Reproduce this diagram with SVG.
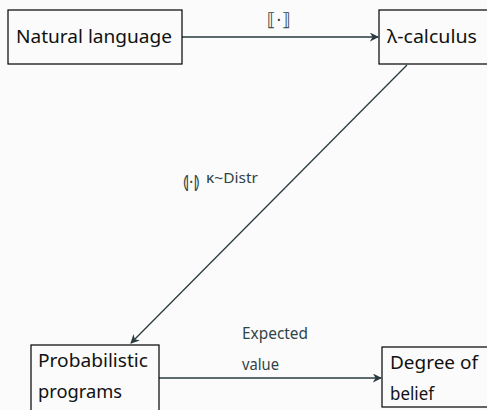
<svg xmlns="http://www.w3.org/2000/svg" width="487" height="410" viewBox="0 0 487 410">
<defs>
<style>
.box{fill:none;stroke:#000;stroke-width:1.2}
.t{font-family:"Noto Sans","DejaVu Sans",sans-serif;font-size:18px;fill:#111}
.lab{font-family:"Noto Sans","DejaVu Sans",sans-serif;font-size:17px;fill:#2f4448}
.sym{font-family:"DejaVu Sans","Noto Sans Math",serif;fill:#2f4448}
.edge{stroke:#2a3b3f;stroke-width:1.3;fill:none}
</style>
<marker id="ah" viewBox="0 0 10 10" refX="9" refY="5" markerWidth="9" markerHeight="9" markerUnits="userSpaceOnUse" orient="auto">
<path d="M0,0 L10,5 L0,10 L3,5 Z" fill="#2a3b3f"/>
</marker>
</defs>
<rect width="487" height="410" fill="#fbfbfb"/>
<g id="connectors">
<line class="edge" x1="182" y1="37" x2="378" y2="37" marker-end="url(#ah)"/>
<line class="edge" x1="407" y1="65" x2="131" y2="343" marker-end="url(#ah)"/>
<line class="edge" x1="159" y1="378" x2="381" y2="378" marker-end="url(#ah)"/>
<text class="sym" x="267" y="26" style="font-size:18px">⟦·⟧</text>
<text class="sym" x="183" y="188" style="font-size:17px">⦇·⦈</text>
<text class="lab" x="206" y="183" style="font-size:14px" textLength="52" lengthAdjust="spacingAndGlyphs">κ~Distr</text>
<text class="lab" x="242" y="339" textLength="66" lengthAdjust="spacingAndGlyphs">Expected</text>
<text class="lab" x="242" y="370" textLength="37" lengthAdjust="spacingAndGlyphs">value</text>
</g>
<g id="natural-language">
<rect class="box" x="8" y="10" width="174" height="54"/>
<text class="t" x="16" y="43" textLength="156" lengthAdjust="spacingAndGlyphs">Natural language</text>
</g>
<g id="lambda-calculus">
<rect class="box" x="379" y="10" width="110" height="54"/>
<text class="t" x="387" y="43" textLength="90" lengthAdjust="spacingAndGlyphs">λ-calculus</text>
</g>
<g id="probabilistic-programs">
<rect class="box" x="31" y="345" width="128" height="70"/>
<text class="t" x="38" y="367" textLength="110" lengthAdjust="spacingAndGlyphs">Probabilistic</text>
<text class="t" x="38" y="398" textLength="84" lengthAdjust="spacingAndGlyphs">programs</text>
</g>
<g id="degree-of-belief">
<rect class="box" x="382" y="347" width="107" height="60"/>
<text class="t" x="390" y="369" textLength="88" lengthAdjust="spacingAndGlyphs">Degree of</text>
<text class="t" x="390" y="400" textLength="44" lengthAdjust="spacingAndGlyphs">belief</text>
</g>
</svg>
